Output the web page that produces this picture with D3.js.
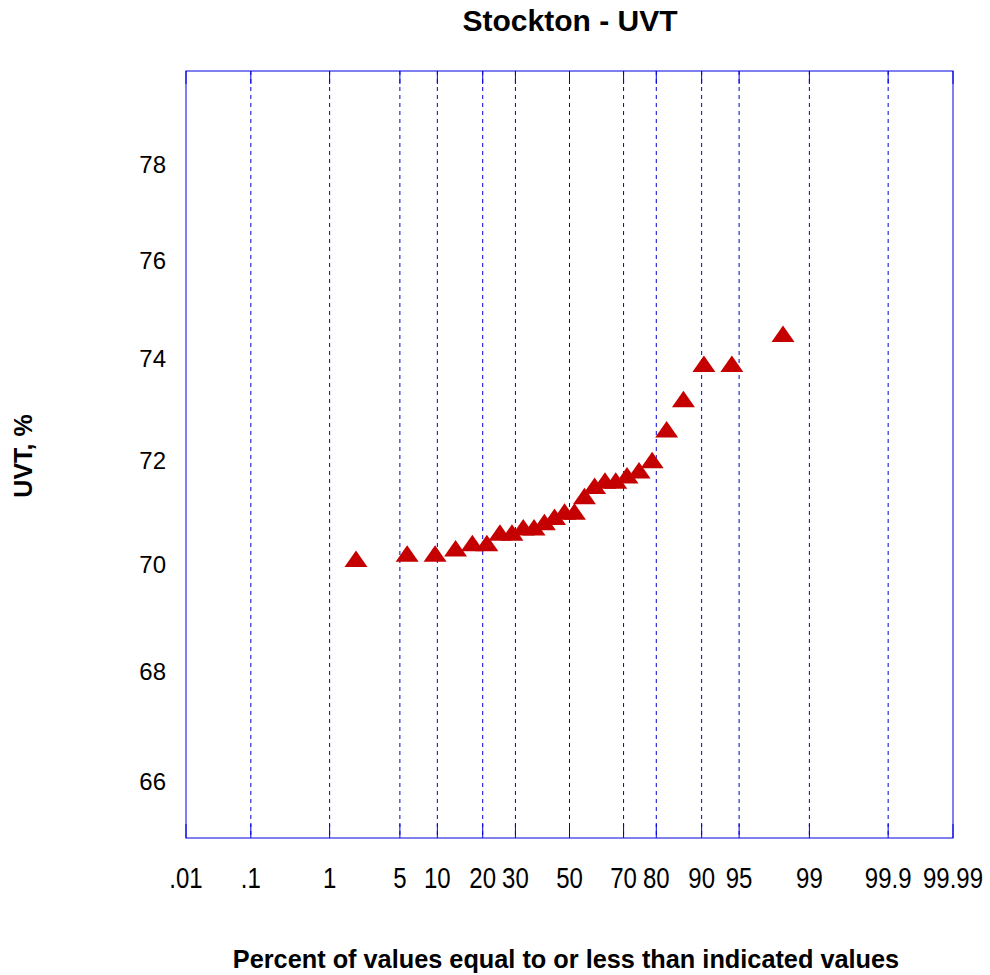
<!DOCTYPE html>
<html>
<head>
<meta charset="utf-8">
<script src="https://cdn.jsdelivr.net/npm/d3@7"></script>
<style>
  body { margin: 0; background: #fff; }
  text { font-family: Arial, "Liberation Sans", sans-serif; }
</style>
</head>
<body>
<div id="chart"></div>
<script>
// probability ticks (percent) and their labels
const probTicks = [0.01, 0.1, 1, 5, 10, 20, 30, 50, 70, 80, 90, 95, 99, 99.9, 99.99];
const probLabels = ['.01', '.1', '1', '5', '10', '20', '30', '50', '70', '80', '90', '95', '99', '99.9', '99.99'];
const uvtTicks = [66, 68, 70, 72, 74, 76, 78];

// sample values, sorted, with their plotting percent
const percent = [1.92, 5.77, 9.62, 13.46, 17.31, 21.15, 25.0, 28.85, 32.69, 36.54, 40.38, 44.23, 48.08,
    51.92, 55.77, 59.62, 63.46, 67.31, 71.15, 75.0, 78.85, 82.69, 86.54, 90.38, 94.23, 98.08];
const uvt = [70.1, 70.2, 70.2, 70.3, 70.4, 70.4, 70.6, 70.6, 70.7, 70.7, 70.8, 70.9, 71.0,
    71.0, 71.3, 71.5, 71.6, 71.6, 71.7, 71.8, 72.0, 72.6, 73.2, 73.9, 73.9, 74.5];

const width = 990, height = 975;
const plotLeft = 186, plotRight = 953, plotTop = 71, plotBottom = 838;

// normal quantile for the probability axis (Acklam's approximation)
function quantile(p) {
    const a = [-3.969683028665376e+01, 2.209460984245205e+02, -2.759285104469687e+02, 1.383577518672690e+02, -3.066479806614716e+01, 2.506628277459239e+00];
    const b = [-5.447609879822406e+01, 1.615858368580409e+02, -1.556989798598866e+02, 6.680131188771972e+01, -1.328068155288572e+01];
    const c = [-7.784894002430293e-03, -3.223964580411365e-01, -2.400758277161838e+00, -2.549732539343734e+00, 4.374664141464968e+00, 2.938163982698783e+00];
    const d = [7.784695709041462e-03, 3.224671290700398e-01, 2.445134137142996e+00, 3.754408661907416e+00];
    const pl = 0.02425;
    let q, r;
    if (p < pl) {
        q = Math.sqrt(-2 * Math.log(p));
        return (((((c[0]*q+c[1])*q+c[2])*q+c[3])*q+c[4])*q+c[5]) / ((((d[0]*q+d[1])*q+d[2])*q+d[3])*q+1);
    }
    if (p > 1 - pl) {
        q = Math.sqrt(-2 * Math.log(1 - p));
        return -(((((c[0]*q+c[1])*q+c[2])*q+c[3])*q+c[4])*q+c[5]) / ((((d[0]*q+d[1])*q+d[2])*q+d[3])*q+1);
    }
    q = p - 0.5; r = q * q;
    return (((((a[0]*r+a[1])*r+a[2])*r+a[3])*r+a[4])*r+a[5])*q / (((((b[0]*r+b[1])*r+b[2])*r+b[3])*r+b[4])*r+1);
}

const zScale = d3.scaleLinear()
    .domain([quantile(0.0001), quantile(0.9999)])
    .range([plotLeft, plotRight]);
const x = p => zScale(quantile(p / 100));

const y = d3.scaleLog().domain([65, 80]).range([plotBottom, plotTop]);

const svg = d3.select('#chart').append('svg')
    .attr('width', width).attr('height', height);

// vertical grid lines
svg.append('g').
    selectAll('line').
    data(probTicks.slice(1, -1)).
    enter().
    append('line').
    attr('x1', d => x(d)).attr('x2', d => x(d)).
    attr('y1', plotTop).attr('y2', plotBottom).
    attr('stroke', '#0000d8').
    attr('stroke-width', 1).
    attr('stroke-dasharray', '4,4');

// ticks top and bottom
const tickG = svg.append('g').attr('stroke', '#0000e0');
probTicks.forEach(p => {
    tickG.append('line').attr('x1', x(p)).attr('x2', x(p)).attr('y1', plotBottom).attr('y2', plotBottom - 14);
    tickG.append('line').attr('x1', x(p)).attr('x2', x(p)).attr('y1', plotTop).attr('y2', plotTop + 13);
});

// frame
svg.append('rect')
    .attr('x', plotLeft).attr('y', plotTop)
    .attr('width', plotRight - plotLeft).attr('height', plotBottom - plotTop)
    .attr('fill', 'none').attr('stroke', '#0000e0').attr('stroke-width', 1);

// x tick labels (condensed)
svg.append('g').
    selectAll('text').
    data(probTicks).
    enter().
    append('text').
    attr('transform', d => 'translate(' + x(d) + ',888) scale(0.8,1)').
    attr('text-anchor', 'middle').
    attr('font-size', 30).
    attr('fill', '#000').
    text((d, i) => probLabels[i]);

// y tick labels
svg.append('g').
    selectAll('text').
    data(uvtTicks).
    enter().
    append('text').
    attr('x', 166).
    attr('y', d => y(d) + 8.5).
    attr('text-anchor', 'end').
    attr('font-size', 24).
    attr('fill', '#000').
    text(d => d);

// points
const tri = 'M0,-8.5L11.5,8L-11.5,8Z';
svg.append('g').
    selectAll('path').
    data(uvt).
    enter().
    append('path').
    attr('d', tri).
    attr('transform', (d, i) => 'translate(' + x(percent[i]) + ',' + y(d) + ')').
    attr('fill', '#c40000');

// titles
svg.append('text')
    .attr('x', 570).attr('y', 31)
    .attr('text-anchor', 'middle')
    .attr('font-size', 30).attr('font-weight', 'bold')
    .text('Stockton - UVT');

svg.append('text')
    .attr('x', 566).attr('y', 968)
    .attr('text-anchor', 'middle')
    .attr('font-size', 25.3).attr('font-weight', 'bold')
    .text('Percent of values equal to or less than indicated values');

svg.append('text')
    .attr('transform', 'translate(32,456) rotate(-90)')
    .attr('text-anchor', 'middle')
    .attr('font-size', 25).attr('font-weight', 'bold')
    .text('UVT, %');
</script>
</body>
</html>
